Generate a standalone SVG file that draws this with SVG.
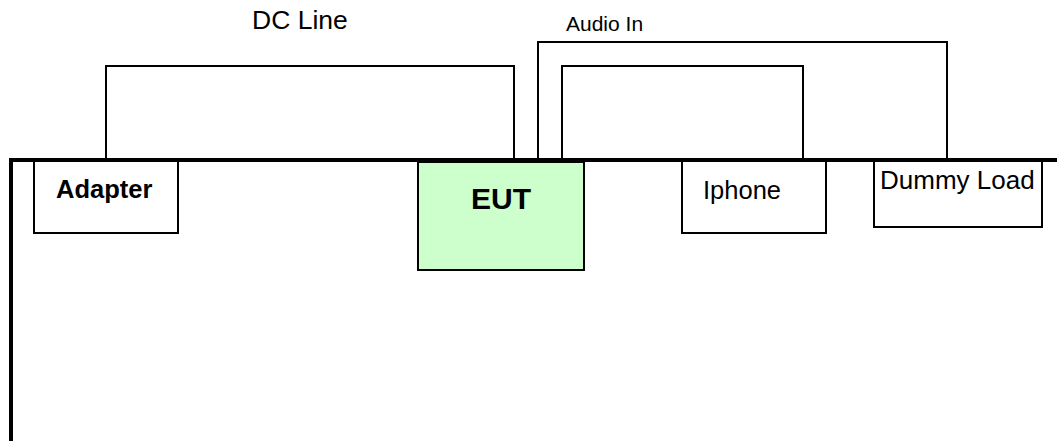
<svg xmlns="http://www.w3.org/2000/svg" width="1057" height="441" viewBox="0 0 1057 441">
<style>
.box{fill:#ffffff;stroke:#000;stroke-width:2}
.eut{fill:#ccffcc;stroke:#000;stroke-width:2}
.wire{fill:none;stroke:#000;stroke-width:2}
.table{fill:none;stroke:#000;stroke-width:4}
text{font-family:"Liberation Sans",Arial,sans-serif;fill:#000}
.b{font-weight:bold}
</style>
<rect width="1057" height="441" fill="#fff"/>
<g id="connectors">
<polyline class="wire" points="106,160 106,66 514,66 514,160"/>
<polyline class="wire" points="538,160 538,42 947,42 947,160"/>
<polyline class="wire" points="562,160 562,66 803,66 803,160"/>
</g>
<g id="table">
<polyline class="table" points="11,441 11,160 1057,160"/>
</g>
<g id="adapter">
<rect class="box" x="34" y="161" width="144" height="72"/>
<text class="b" x="56" y="198" font-size="25.5">Adapter</text>
</g>
<g id="eut">
<rect class="eut" x="418" y="162" width="166" height="108"/>
<text class="b" x="501" y="209" font-size="30" text-anchor="middle">EUT</text>
</g>
<g id="iphone">
<rect class="box" x="682" y="161" width="144" height="72"/>
<text x="703" y="199" font-size="25.5">Iphone</text>
</g>
<g id="dummy">
<rect class="box" x="874" y="161" width="168" height="66"/>
<text x="880" y="189" font-size="26">Dummy Load</text>
</g>
<g id="labels">
<text x="252" y="29" font-size="26.5">DC Line</text>
<text x="566" y="31" font-size="21">Audio In</text>
</g>
</svg>
